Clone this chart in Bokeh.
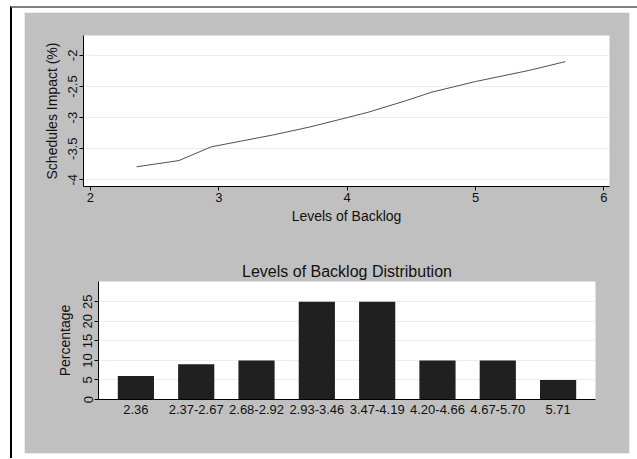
from bokeh.plotting import figure
from bokeh.layouts import column, row
from bokeh.models import FixedTicker, NumeralTickFormatter, FactorRange, Range1d
from bokeh.embed import file_html
from bokeh.resources import INLINE

# ---- data ----
backlog = [2.36, 2.69, 2.94, 3.42, 3.71, 4.00, 4.17, 4.47, 4.66, 5.00, 5.42, 5.70]
impact = [-3.79, -3.69, -3.47, -3.28, -3.15, -3.00, -2.91, -2.72, -2.59, -2.42, -2.24, -2.10]
x_ticks = [2, 3, 4, 5, 6]
y_ticks = [-4, -3.5, -3, -2.5, -2]

bins = ["2.36", "2.37-2.67", "2.68-2.92", "2.93-3.46", "3.47-4.19", "4.20-4.66", "4.67-5.70", "5.71"]
pct = [6, 9, 10, 25, 25, 10, 10, 5]
pct_ticks = [0, 5, 10, 15, 20, 25]

FONT = "Liberation Sans"
GRAY = "#c0c0c0"
GRID = "#e8eff2"
TXT = "#111111"


def style_axis(ax, label):
    ax.axis_label = label
    ax.axis_label_text_font = FONT
    ax.axis_label_text_font_size = "14px"
    ax.axis_label_text_font_style = "normal"
    ax.axis_label_text_color = TXT
    ax.axis_label_standoff = 3
    ax.major_label_text_font = FONT
    ax.major_label_text_font_size = "13px"
    ax.major_label_text_color = TXT
    ax.major_label_standoff = 2
    ax.major_tick_out = 4
    ax.major_tick_in = 0
    ax.minor_tick_out = 0
    ax.minor_tick_in = 0
    ax.axis_line_color = "black"
    ax.major_tick_line_color = "black"


# ---- top: line chart ----
p1 = figure(width=604, height=222, output_backend="svg", toolbar_location=None,
            x_range=Range1d(1.946, 6.044), y_range=Range1d(-4.107, -1.68),
            min_border_left=58, min_border_right=20, min_border_top=22, min_border_bottom=49,
            border_fill_color=GRAY, background_fill_color="white", outline_line_color=None)
p1.line(backlog, impact, line_color="#505050", line_width=1.0)

style_axis(p1.xaxis[0], "Levels of Backlog")
style_axis(p1.yaxis[0], "Schedules Impact (%)")
p1.yaxis[0].axis_label_standoff = 6
p1.xaxis[0].ticker = FixedTicker(ticks=x_ticks)
p1.yaxis[0].ticker = FixedTicker(ticks=y_ticks)
p1.yaxis[0].formatter = NumeralTickFormatter(format="0.[0]")
p1.yaxis[0].major_label_orientation = "vertical"
p1.xgrid.visible = False
p1.ygrid.grid_line_color = GRID
p1.ygrid.ticker = FixedTicker(ticks=y_ticks)

# ---- bottom: bar chart ----
p2 = figure(width=604, height=218, output_backend="svg", toolbar_location=None,
            x_range=FactorRange(factors=bins, range_padding=0.03),
            y_range=Range1d(0, 30.2),
            min_border_left=73, min_border_right=34, min_border_top=46, min_border_bottom=54,
            border_fill_color=GRAY, background_fill_color="white", outline_line_color=None,
            title="Levels of Backlog Distribution")
p2.vbar(x=bins, top=pct, width=0.6, fill_color="#202020", line_color=None)

p2.title.text_font = FONT
p2.title.text_font_size = "16px"
p2.title.text_font_style = "normal"
p2.title.text_color = TXT
p2.title.align = "center"
p2.title.standoff = 3

style_axis(p2.xaxis[0], "")
style_axis(p2.yaxis[0], "Percentage")
p2.yaxis[0].axis_label_standoff = 8
p2.xaxis[0].major_tick_out = 0
p2.xaxis[0].major_label_standoff = 5
p2.yaxis[0].ticker = FixedTicker(ticks=pct_ticks)
p2.yaxis[0].major_label_orientation = "vertical"
p2.xgrid.visible = False
p2.ygrid.grid_line_color = GRID
p2.ygrid.ticker = FixedTicker(ticks=pct_ticks)

panel = column(row(p1), row(p2), spacing=0, margin=(5, 8, 5, 13),
               styles={"background-color": GRAY, "outline": "1px solid #e6eef2"})
page = column(panel, spacing=0, margin=(6, 0, 0, 10),
              styles={"border-top": "2px solid #808080", "border-left": "2px solid #000000"})

open("out.html", "w").write(file_html(page, INLINE))
